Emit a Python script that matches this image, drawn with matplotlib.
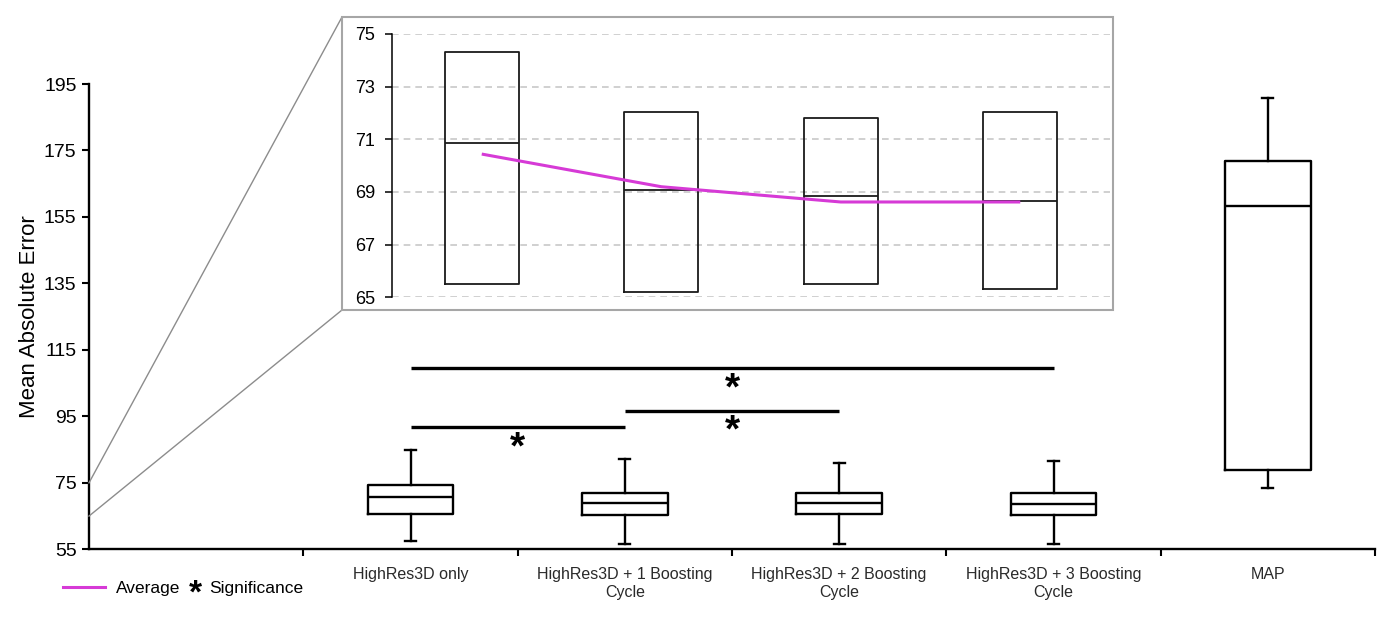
import matplotlib
matplotlib.use('Agg')
import matplotlib.pyplot as plt
from matplotlib.lines import Line2D
from matplotlib.patches import Rectangle

plt.rcParams['font.family'] = ['Liberation Sans', 'DejaVu Sans']

# ---- data ----
box_labels = ['HighRes3D only', 'HighRes3D + 1 Boosting\nCycle',
              'HighRes3D + 2 Boosting\nCycle', 'HighRes3D + 3 Boosting\nCycle', 'MAP']
whisker_low = [57.4, 56.7, 56.7, 56.7, 73.5]
q1 = [65.5, 65.2, 65.5, 65.3, 79.0]
median = [70.85, 69.08, 68.85, 68.65, 158.4]
q3 = [74.3, 72.04, 71.8, 72.04, 171.9]
whisker_high = [85.0, 82.3, 81.0, 81.7, 190.9]
average = [70.44, 69.20, 68.62, 68.62]          # first four groups (inset)
sig_pairs = [(1, 4), (2, 3), (1, 2)]             # group numbers (1-based)
sig_levels = [109.5, 96.7, 91.8]
yticks_main = [55, 75, 95, 115, 135, 155, 175, 195]
yticks_inset = [65, 67, 69, 71, 73, 75]

W, H = 1388, 618
fig = plt.figure(figsize=(W / 100, H / 100), dpi=100)

def fx(px):
    return px / W

def fy(py):
    return 1 - py / H

# ---- main axes ----
ax = fig.add_axes([fx(89), fy(549.3), fx(1375) - fx(89), fy(84) - fy(549.3)])
ax.set_zorder(0)
stats = []
for i in range(len(box_labels)):
    stats.append(dict(med=median[i], q1=q1[i], q3=q3[i],
                      whislo=whisker_low[i], whishi=whisker_high[i], fliers=[]))
positions = list(range(1, len(box_labels) + 1))
lw = 1.7
ax.bxp(stats, positions=positions, widths=0.4, showfliers=False,
       boxprops=dict(color='black', linewidth=lw),
       medianprops=dict(color='black', linewidth=lw),
       whiskerprops=dict(color='black', linewidth=lw),
       capprops=dict(color='black', linewidth=lw), capwidths=0.05,
       manage_ticks=False)
ax.set_xlim(-0.5, len(box_labels) + 0.5)
ax.set_ylim(yticks_main[0], yticks_main[-1])
ax.set_yticks(yticks_main)
ax.set_xticks([p + 0.5 for p in range(0, len(box_labels) + 1)])
ax.set_xticklabels([])
ax.set_xticks(positions, minor=True)
ax.set_xticklabels(box_labels, minor=True, fontsize=11.5, color='#2a2a2a', linespacing=1.2)
ax.tick_params(axis='x', which='minor', length=0, pad=13)
ax.tick_params(axis='x', which='major', length=5, width=1.5, direction='out')
ax.tick_params(axis='y', length=5, width=1.5, direction='out', labelsize=14, pad=4)
for s in ['top', 'right']:
    ax.spines[s].set_visible(False)
for s in ['left', 'bottom']:
    ax.spines[s].set_linewidth(1.7)
ax.set_ylabel('Mean Absolute Error', fontsize=16, labelpad=3)

# significance bars
for (a, b), lvl in zip(sig_pairs, sig_levels):
    ax.plot([a, b], [lvl, lvl], color='black', linewidth=2.4, solid_capstyle='butt')
    ax.annotate('*', xy=((a + b) / 2, lvl), xytext=(0, -22.5), textcoords='offset points',
                ha='center', va='baseline', fontsize=28, fontweight='bold')

# ---- inset ----
frame = Rectangle((fx(342), fy(310)), fx(1113) - fx(342), fy(17) - fy(310),
                  transform=fig.transFigure, facecolor='white', edgecolor='#a6a6a6',
                  linewidth=1.5, zorder=2)
fig.patches.append(frame)

axi = fig.add_axes([fx(392), fy(297.3), fx(1110) - fx(392), fy(34) - fy(297.3)])
axi.set_zorder(3)
axi.patch.set_alpha(0)
n_in = len(average)
stats_in = []
for i in range(n_in):
    stats_in.append(dict(med=median[i], q1=q1[i], q3=q3[i],
                         whislo=q1[i], whishi=q3[i], fliers=[]))
pos_in = list(range(1, n_in + 1))
ilw = 1.3
axi.bxp(stats_in, positions=pos_in, widths=0.41, showfliers=False, showcaps=False,
        boxprops=dict(color='#1a1a1a', linewidth=ilw),
        medianprops=dict(color='#1a1a1a', linewidth=ilw),
        whiskerprops=dict(color='#1a1a1a', linewidth=0),
        manage_ticks=False)
axi.plot(pos_in, average, color='#d63ad6', linewidth=2.2, solid_capstyle='butt', zorder=5)
axi.set_xlim(0.5, n_in + 0.5)
axi.set_ylim(yticks_inset[0], yticks_inset[-1])
axi.set_yticks(yticks_inset)
axi.set_xticks([])
axi.yaxis.grid(True, color='#c8c8c8', linestyle=(0, (4, 3)), linewidth=1.2)
axi.set_axisbelow(True)
for s in ['top', 'right', 'bottom']:
    axi.spines[s].set_visible(False)
axi.spines['left'].set_linewidth(1.1)
axi.tick_params(axis='y', length=5, width=1.1, direction='out', labelsize=13, pad=7)

# connector lines from main axis to inset frame
inv = fig.transFigure.inverted()
p_top = inv.transform(ax.transData.transform((-0.5, yticks_inset[-1])))
p_bot = inv.transform(ax.transData.transform((-0.5, yticks_inset[0])))
fig.add_artist(Line2D([p_top[0], fx(342)], [p_top[1], fy(17)], transform=fig.transFigure,
                      color='#8c8c8c', linewidth=1.0, zorder=1.5))
fig.add_artist(Line2D([p_bot[0], fx(342)], [p_bot[1], fy(310)], transform=fig.transFigure,
                      color='#8c8c8c', linewidth=1.0, zorder=1.5))

# ---- legend ----
fig.add_artist(Line2D([fx(63), fx(105)], [fy(587), fy(587)], transform=fig.transFigure,
                      color='#d63ad6', linewidth=2.2))
fig.text(fx(116), fy(588), 'Average', fontsize=12.5, va='center', ha='left')
fig.text(fx(195), fy(603), '*', fontsize=24, fontweight='bold', va='baseline', ha='center')
fig.text(fx(209), fy(588), 'Significance', fontsize=12.5, va='center', ha='left')

fig.savefig('out.png', dpi=100)
